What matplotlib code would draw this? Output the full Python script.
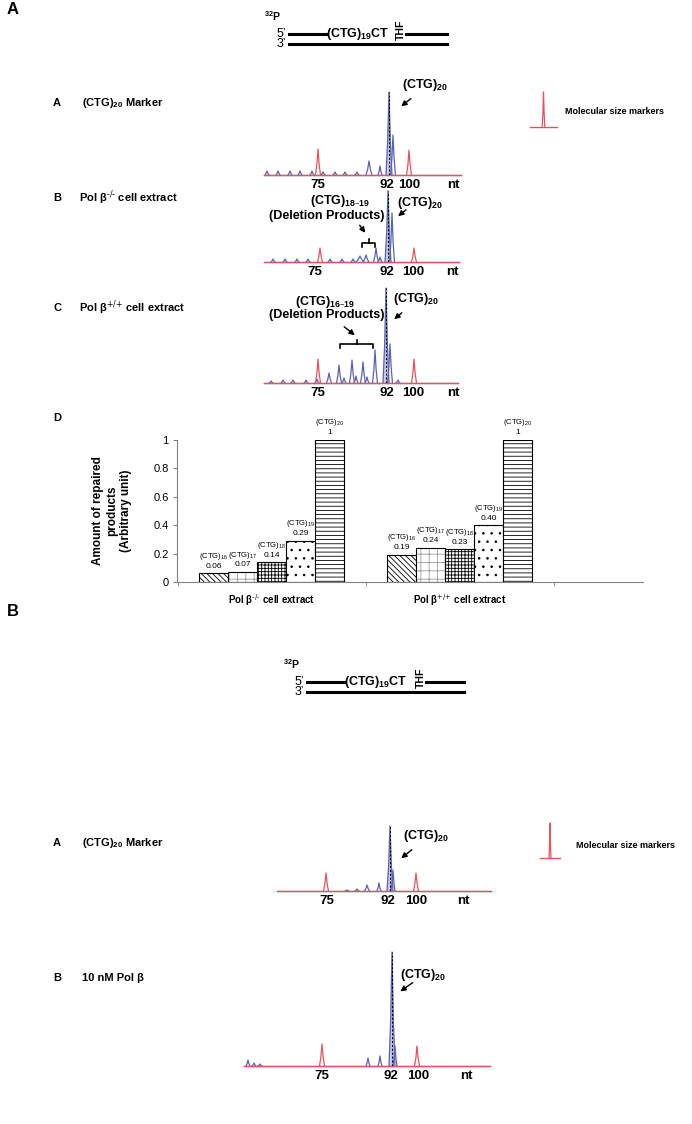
import matplotlib
matplotlib.use("Agg")
import matplotlib.pyplot as plt

plt.rcParams['font.family'] = ['Liberation Sans', 'DejaVu Sans']
plt.rcParams['mathtext.default'] = 'regular'
plt.rcParams['hatch.linewidth'] = 0.6

W, H = 692, 1124
BLUE = '#5b62b5'
RED = '#e5535c'

# electropherogram peaks: (migration position, height, half width)
a_marker_blue = [(267, 4, 2), (278, 4, 2), (290, 4, 2), (300, 4, 2), (312, 4, 2), (323, 3, 2),
                 (335, 3, 2), (345, 3, 2), (357, 3, 2), (369, 14, 3), (380, 9, 2), (393, 40, 2.5)]
a_marker_red = [(318, 26, 2.5), (409, 25, 2.5)]
a_marker_main = (389, 83)

b_minus_blue = [(273, 3, 2), (285, 3, 2), (297, 3, 2), (308, 3, 2), (330, 3, 2), (342, 3, 2),
                (353, 3, 2), (360, 6, 4), (366, 7, 3), (376, 14, 2.5), (380, 5, 2), (392, 49, 2.5)]
b_minus_red = [(320, 14, 2.5), (414, 14, 2.5)]
b_minus_main = (388, 71)

c_plus_blue = [(271, 2, 2), (283, 3, 2), (293, 3, 2), (306, 3, 2), (317, 4, 2), (329, 10, 2.5),
               (339, 18, 2.5), (344, 5, 2), (352, 23, 2.5), (356, 7, 2), (363, 21, 2.5), (367, 6, 2),
               (375, 33, 2.5), (390, 39, 2.5), (398, 3, 2)]
c_plus_red = [(318, 24, 2.5), (414, 24, 2.5)]
c_plus_main = (386, 95)

b_marker_blue = [(347, 1, 2), (357, 2, 2), (367, 6, 2.5), (379, 8, 2), (393, 21, 2)]
b_marker_red = [(326, 18, 2.5), (416, 18, 2.5)]
b_marker_main = (390, 65)

b_polb_blue = [(248, 6, 2), (254, 3, 2), (260, 2, 2), (368, 8, 2), (380, 10, 2), (395, 20, 2)]
b_polb_red = [(322, 22, 2.5), (417, 20, 2.5)]
b_polb_main = (392, 114)

size_labels = ['75', '92', '100', 'nt']
a_marker_ticks = [318, 387, 409, 453]
b_minus_ticks = [315, 387, 413, 452]
c_plus_ticks = [318, 387, 413, 453]
b_marker_ticks = [327, 388, 416, 463]
b_polb_ticks = [322, 391, 418, 466]

legend_peak = [(0.5, 35, 0.05)]

# bar chart D
groups = ['Pol β$^{\\text{-/-}}$ cell extract', 'Pol β$^{\\text{+/+}}$ cell extract']
products = ['(CTG)$_{16}$', '(CTG)$_{17}$', '(CTG)$_{18}$', '(CTG)$_{19}$', '(CTG)$_{20}$']
vals_minus = [0.06, 0.07, 0.14, 0.29, 1]
vals_plus = [0.19, 0.24, 0.23, 0.40, 1]
text_minus = ['0.06', '0.07', '0.14', '0.29', '1']
text_plus = ['0.19', '0.24', '0.23', '0.40', '1']
hatches = ['\\\\\\\\\\\\', '++', '+++++', '..', '----']
hatch_colors = ['black', '#9a9a9a', 'black', 'black', 'black']

fig = plt.figure(figsize=(W / 100, H / 100), dpi=100)
ov = fig.add_axes([0, 0, 1, 1])
ov.set_xlim(0, W)
ov.set_ylim(H, 0)
ov.axis('off')


def px_axes(x0, y_top, x1, y_bot):
    return fig.add_axes([x0 / W, 1 - y_bot / H, (x1 - x0) / W, (y_bot - y_top) / H])


def draw_peaks(ax, peaks, color):
    for p, h, w in peaks:
        ax.plot([p - w, p - 0.45 * w, p, p + 0.45 * w, p + w],
                [0, 0.4 * h, h, 0.4 * h, 0], color=color, lw=0.9, clip_on=False)


def trace(x0, x1, y_base, blue, red, main, ticks):
    ax = px_axes(x0, y_base - 120, x1, y_base)
    ax.set_xlim(x0, x1)
    ax.set_ylim(0, 120)
    ax.plot([x0, x1], [0, 0], color=BLUE, lw=0.9, clip_on=False)
    draw_peaks(ax, blue, BLUE)
    mx, mh = main
    ax.fill([mx - 3, mx, mx + 3], [0, mh, 0], color='#c9cbe8', lw=0)
    draw_peaks(ax, [(mx, mh, 3)], BLUE)
    ax.plot([mx, mx], [0, mh], color='black', lw=0.8, ls=(0, (2, 1.5)), clip_on=False)
    ax.plot([x0, x1], [0, 0], color=RED, lw=1.0, clip_on=False)
    draw_peaks(ax, red, RED)
    ax.set_xticks(ticks, size_labels, fontsize=9.5, fontweight='bold')
    ax.tick_params(axis='x', length=0, pad=3)
    ax.set_yticks([])
    for s in ax.spines.values():
        s.set_visible(False)
    ax.patch.set_alpha(0)
    return ax


def duplex(x, y, line_start, thf_x, line_end):
    ov.text(x - 2, y - 18, '$^{32}$P', fontsize=7.5, fontweight='bold', ha='left', va='center')
    ov.text(line_start - 3, y, '5\u2019', fontsize=9, ha='right', va='center')
    ov.text(line_start - 3, y + 10, '3\u2019', fontsize=9, ha='right', va='center')
    ov.plot([line_start, line_start + 37], [y, y], color='black', lw=2.2)
    ov.text(line_start + 37, y, '(CTG)$_{19}$CT', fontsize=9, fontweight='bold', ha='left', va='center')
    ov.text(thf_x, y - 4, 'THF', fontsize=7.5, fontweight='bold', rotation=90, ha='center', va='center')
    ov.plot([thf_x + 5, line_end], [y, y], color='black', lw=2.2)
    ov.plot([line_start, line_end], [y + 10, y + 10], color='black', lw=2.2)


def legend_icon(x0, x1, y_base):
    ax = px_axes(x0, y_base - 40, x1, y_base)
    ax.set_xlim(0, 1)
    ax.set_ylim(0, 40)
    ax.plot([0, 1], [0, 0], color=RED, lw=1.0, clip_on=False)
    draw_peaks(ax, legend_peak, RED)
    ax.axis('off')


def arrow(x_from, y_from, x_to, y_to):
    ov.annotate('', xy=(x_to, y_to), xytext=(x_from, y_from),
                arrowprops=dict(arrowstyle='-|>', color='black', lw=1.0, mutation_scale=8))


def bracket(xa, xb, y):
    ov.plot([xa, xa, xb, xb], [y + 4, y, y, y + 4], color='black', lw=1.2)
    xm = (xa + xb) / 2
    ov.plot([xm, xm], [y, y - 4], color='black', lw=1.2)


# ---------------- section A ----------------
ov.text(7, 10, 'A', fontsize=12, fontweight='bold', ha='left', va='center')
duplex(266, 34, 289, 401, 447)

trace(264, 461, 175, a_marker_blue, a_marker_red, a_marker_main, a_marker_ticks)
trace(264, 459, 262, b_minus_blue, b_minus_red, b_minus_main, b_minus_ticks)
trace(264, 458, 383, c_plus_blue, c_plus_red, c_plus_main, c_plus_ticks)

legend_icon(530, 557, 127)
ov.text(565, 112, 'Molecular size markers', fontsize=6.5, fontweight='bold', ha='left', va='center')

ov.text(53, 103, 'A', fontsize=8, fontweight='bold', ha='left', va='center')
ov.text(82, 103, '(CTG)$_{20}$ Marker', fontsize=8, fontweight='bold', ha='left', va='center')
ov.text(53, 198, 'B', fontsize=8, fontweight='bold', ha='left', va='center')
ov.text(79, 198, 'Pol β$^{\\text{-/-}}$ cell extract', fontsize=8, fontweight='bold', ha='left', va='center')
ov.text(53, 308, 'C', fontsize=8, fontweight='bold', ha='left', va='center')
ov.text(79, 308, 'Pol β$^{\\text{+/+}}$ cell extract', fontsize=8, fontweight='bold', ha='left', va='center')

ov.text(402, 85, '(CTG)$_{20}$', fontsize=9, fontweight='bold', ha='left', va='center')
arrow(413, 97, 399, 108)

ov.text(340, 201, '(CTG)$_{18\u201319}$', fontsize=9, fontweight='bold', ha='center', va='center')
ov.text(327, 216, '(Deletion Products)', fontsize=9, fontweight='bold', ha='center', va='center')
arrow(358, 223, 367, 235)
bracket(362, 375, 243)
ov.text(397, 203, '(CTG)$_{20}$', fontsize=9, fontweight='bold', ha='left', va='center')
arrow(408, 208, 396, 218)

ov.text(325, 302, '(CTG)$_{16\u201319}$', fontsize=9, fontweight='bold', ha='center', va='center')
ov.text(327, 315, '(Deletion Products)', fontsize=9, fontweight='bold', ha='center', va='center')
arrow(342, 325, 357, 337)
bracket(340, 373, 344)
ov.text(393, 299, '(CTG)$_{20}$', fontsize=9, fontweight='bold', ha='left', va='center')
arrow(404, 311, 392, 321)

# ---------------- panel D bar chart ----------------
ov.text(53, 418, 'D', fontsize=8, fontweight='bold', ha='left', va='center')
scale = 188.0
bx = px_axes(177, 440, 643, 582)
bx.set_xlim(-(271.5 - 177) / scale, (643 - 271.5) / scale)
bx.set_ylim(0, 1)
bw = 29 / scale
for gi, (vals, txts) in enumerate([(vals_minus, text_minus), (vals_plus, text_plus)]):
    for i, v in enumerate(vals):
        x = gi + (i - 2) * bw
        bx.bar(x, v, bw, color='white', edgecolor=hatch_colors[i], hatch=hatches[i], lw=0)
        bx.bar(x, v, bw, fill=False, edgecolor='black', lw=0.8)
        bx.text(x, v + 0.05, txts[i], fontsize=6, ha='center', va='center', clip_on=False)
        bx.text(x, v + 0.12, products[i], fontsize=5.5, ha='center', va='center', clip_on=False)
bx.set_xticks([0, 1], groups, fontsize=7, fontweight='bold')
bx.set_xticks([-0.5, 0.5, 1.5], minor=True)
bx.tick_params(axis='x', which='major', length=0, pad=7)
bx.tick_params(axis='x', which='minor', length=3, color='#808080')
bx.set_yticks([0, 0.2, 0.4, 0.6, 0.8, 1], ['0', '0.2', '0.4', '0.6', '0.8', '1'], fontsize=8)
bx.tick_params(axis='y', length=3, color='#808080', pad=3)
for s in ['top', 'right']:
    bx.spines[s].set_visible(False)
for s in ['left', 'bottom']:
    bx.spines[s].set_color('#808080')
    bx.spines[s].set_linewidth(0.8)
ov.text(112, 511, 'Amount of repaired\nproducts\n(Arbitrary unit)', fontsize=8.5, fontweight='bold',
        rotation=90, ha='center', va='center', multialignment='center')

# ---------------- section B ----------------
ov.text(7, 611, 'B', fontsize=12, fontweight='bold', ha='left', va='center')
duplex(285, 682, 307, 421, 464)

trace(277, 491, 891, b_marker_blue, b_marker_red, b_marker_main, b_marker_ticks)
trace(244, 490, 1066, b_polb_blue, b_polb_red, b_polb_main, b_polb_ticks)

legend_icon(540, 560, 858)
ov.text(576, 845, 'Molecular size markers', fontsize=6.5, fontweight='bold', ha='left', va='center')

ov.text(53, 843, 'A', fontsize=8, fontweight='bold', ha='left', va='center')
ov.text(82, 843, '(CTG)$_{20}$ Marker', fontsize=8, fontweight='bold', ha='left', va='center')
ov.text(53, 978, 'B', fontsize=8, fontweight='bold', ha='left', va='center')
ov.text(82, 978, '10 nM Pol β', fontsize=8, fontweight='bold', ha='left', va='center')

ov.text(403, 836, '(CTG)$_{20}$', fontsize=9, fontweight='bold', ha='left', va='center')
arrow(414, 848, 399, 860)
ov.text(400, 975, '(CTG)$_{20}$', fontsize=9, fontweight='bold', ha='left', va='center')
arrow(415, 981, 398, 993)

fig.savefig('out.png', dpi=100)
